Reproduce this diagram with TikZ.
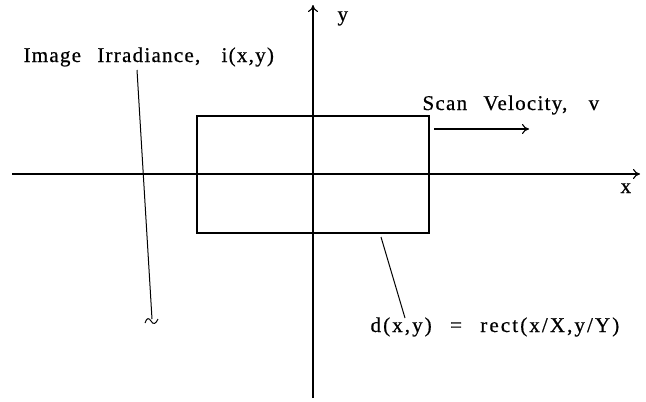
\documentclass[tikz,border=0pt]{standalone}
\usepackage{fontspec}
\setmainfont{Liberation Serif}[LetterSpace=6, WordSpace=2.5, FakeBold=0.6]
\usetikzlibrary{arrows.meta}
\begin{document}
\begin{tikzpicture}[x=1pt,y=-1pt, line width=1.1pt,
  lbl/.style={font=\fontsize{21}{24}\selectfont, inner sep=0pt, anchor=base west},
  axis/.style={-{To[length=7pt,width=10pt]}},
  leader/.style={line width=1pt},
  detbox/.style={draw, minimum width=232pt, minimum height=117pt, inner sep=0pt, line width=1.1pt}]
\useasboundingbox (0,0) rectangle (646,402);
\coordinate (xs) at (12,174); \coordinate (xe) at (640,174);
\coordinate (ys) at (313,398); \coordinate (ye) at (313,5);
\draw[axis] (xs) -- (xe);
\draw[axis] (ys) -- (ye);
\node[detbox] (det) at (313,174.5) {};
\node[lbl] (xl) at (620,193) {x};
\node[lbl] (yl) at (337,21) {y};
\node[lbl] (irr) at (23,62) {Image Irradiance,\kern5pt{} i(x,y)};
\node[lbl] (scan) at (422,110) {Scan Velocity,\kern5pt{} v};
\node[lbl] (dl) at (370,332) {\addfontfeature{LetterSpace=10}d(x,y) = rect(x/X,y/Y)};
\coordinate (sv0) at (434,129); \coordinate (sv1) at (529,129);
\draw[axis] (sv0) -- (sv1);
\coordinate (ir0) at (137,70); \coordinate (ir1) at (152,319);
\draw[leader] (ir0) -- (ir1);
\coordinate (t0) at (145,323); \coordinate (t1) at (151,321); \coordinate (t2) at (158,319);
\draw[line width=1pt] (t0) .. controls (147,317) and (149,318) .. (t1) .. controls (153,325) and (156,324) .. (t2);
\coordinate (d0) at (381,237); \coordinate (d1) at (405,318);
\draw[leader] (d0) -- (d1);
\end{tikzpicture}
\end{document}
